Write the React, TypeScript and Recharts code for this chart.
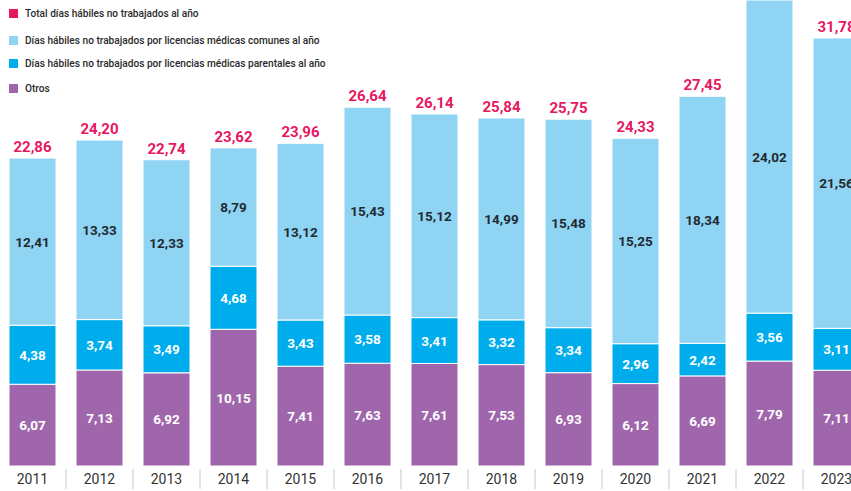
import React from "react";
import { BarChart, Bar, XAxis, YAxis, LabelList } from "recharts";

const years = ["2011", "2012", "2013", "2014", "2015", "2016", "2017", "2018", "2019", "2020", "2021", "2022", "2023"];
const otros = [6.07, 7.13, 6.92, 10.15, 7.41, 7.63, 7.61, 7.53, 6.93, 6.12, 6.69, 7.79, 7.11];
const parentales = [4.38, 3.74, 3.49, 4.68, 3.43, 3.58, 3.41, 3.32, 3.34, 2.96, 2.42, 3.56, 3.11];
const comunes = [12.41, 13.33, 12.33, 8.79, 13.12, 15.43, 15.12, 14.99, 15.48, 15.25, 18.34, 24.02, 21.56];
const totals = [22.86, 24.2, 22.74, 23.62, 23.96, 26.64, 26.14, 25.84, 25.75, 24.33, 27.45, 35.37, 31.78];

const PINK = "#E6185F";
const LIGHT = "#8FD4F3";
const BLUE = "#00ADEC";
const PURPLE = "#A066AC";

const data = years.map((year, i) => ({
  year,
  otros: otros[i],
  parentales: parentales[i],
  comunes: comunes[i],
  total: totals[i],
}));

const CHART_W = 871;
const CHART_H = 491;
const step = CHART_W / years.length;

const fmt = (v: number) => v.toFixed(2).replace(".", ",");

const inner = (color: string) => (props: any) => {
  const { x, y, width, height, value } = props;
  const top = Math.max(y, 0);
  const cy = (top + y + height) / 2;
  return (
    <text
      x={x + width / 2}
      y={cy}
      textAnchor="middle"
      dominantBaseline="central"
      fill={color}
      fontSize={13.5}
      fontWeight={700}
      fontFamily="Roboto, 'Open Sans', sans-serif"
    >
      {fmt(Number(value))}
    </text>
  );
};

const totalLabel = (props: any) => {
  const { x, y, width, value } = props;
  return (
    <text
      x={x + width / 2}
      y={y - 11}
      textAnchor="middle"
      dominantBaseline="central"
      fill={PINK}
      fontSize={15}
      fontWeight={700}
      fontFamily="Roboto, 'Open Sans', sans-serif"
    >
      {fmt(Number(value))}
    </text>
  );
};

const YearTick = (props: any) => {
  const { x, payload, index } = props;
  return (
    <g>
      {index > 0 && (
        <line x1={x - step / 2} x2={x - step / 2} y1={469} y2={489} stroke="#c8c8c8" strokeWidth={1} />
      )}
      <text
        x={x}
        y={479}
        textAnchor="middle"
        dominantBaseline="central"
        fill="#333"
        fontSize={14}
        fontFamily="Roboto, 'Open Sans', sans-serif"
      >
        {payload.value}
      </text>
    </g>
  );
};

const legendItems = [
  { label: "Total días hábiles no trabajados al año", color: PINK, top: 13 },
  { label: "Días hábiles no trabajados por licencias médicas comunes al año", color: LIGHT, top: 40 },
  { label: "Días hábiles no trabajados por licencias médicas parentales al año", color: BLUE, top: 63 },
  { label: "Otros", color: PURPLE, top: 88 },
];

const App = () => (
  <div
    style={{
      position: "absolute",
      left: 0,
      top: 0,
      width: 851,
      height: 491,
      overflow: "hidden",
      background: "#fff",
    }}
  >
    <div style={{ position: "absolute", left: -1, top: 0 }}>
      <BarChart
        width={CHART_W}
        height={CHART_H}
        data={data}
        margin={{ top: 0, right: 0, left: 0, bottom: 0 }}
        barSize={47}
      >
        <XAxis
          dataKey="year"
          height={25}
          axisLine={false}
          tickLine={false}
          interval={0}
          tick={<YearTick />}
        />
        <YAxis hide domain={[0, 34.6]} allowDataOverflow />
        <Bar dataKey="otros" stackId="a" fill={PURPLE} stroke="#fff" strokeWidth={1} isAnimationActive={false}>
          <LabelList dataKey="otros" content={inner("#fff")} />
        </Bar>
        <Bar dataKey="parentales" stackId="a" fill={BLUE} stroke="#fff" strokeWidth={1} isAnimationActive={false}>
          <LabelList dataKey="parentales" content={inner("#fff")} />
        </Bar>
        <Bar dataKey="comunes" stackId="a" fill={LIGHT} stroke="#fff" strokeWidth={1} isAnimationActive={false}>
          <LabelList dataKey="comunes" content={inner("#1f2a33")} />
          <LabelList dataKey="total" content={totalLabel} />
        </Bar>
      </BarChart>
    </div>
    {legendItems.map((item) => (
      <div
        key={item.label}
        style={{
          position: "absolute",
          left: 9,
          top: item.top - 7,
          height: 14,
          display: "flex",
          alignItems: "center",
          fontFamily: "Roboto, sans-serif",
          fontSize: 11.5,
          fontWeight: 500,
          color: "#2a2a2a",
          whiteSpace: "nowrap",
        }}
      >
        <span style={{ width: 9, height: 9, background: item.color, marginRight: 7, display: "inline-block" }} />
        <span style={{ display: "inline-block", transform: "scaleX(0.88)", transformOrigin: "left center" }}>
          {item.label}
        </span>
      </div>
    ))}
  </div>
);

export default App;
